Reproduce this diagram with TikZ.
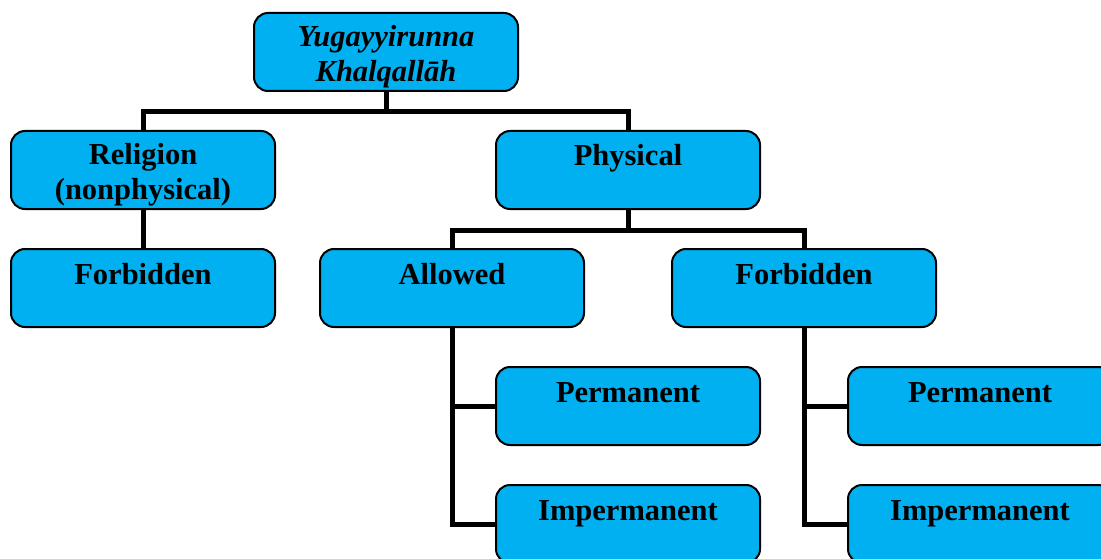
\documentclass[tikz,border=0pt]{standalone}
\usepackage{fontspec}
\setmainfont{Liberation Serif}
\definecolor{boxblue}{HTML}{00B0F0}
\tikzset{
  box/.style={draw=black, line width=2pt, fill=boxblue, rounded corners=14pt,
    minimum width=264pt, minimum height=78pt, inner sep=0pt, align=center,
    text height=35pt, text depth=43pt,
    font=\fontsize{30.5}{35}\selectfont\bfseries},
  twoline/.style={text height=69pt, text depth=9pt},
  link/.style={line width=5pt}
}
\begin{document}
\begin{tikzpicture}[x=1pt,y=-1pt]
            \useasboundingbox (0,0) rectangle (1101,559);
            \clip (0,0) rectangle (1101,559);

            \node[box, twoline] (root) at (386, 52){\itshape Yugayyirunna\\\itshape Khalqallāh};
            \node[box, twoline] (rel) at (143, 170){Religion\\(nonphysical)};
            \node[box] (phys) at (628, 170){Physical};
            \node[box] (lforb) at (143, 288){Forbidden};
            \node[box] (allow) at (452, 288){Allowed};
            \node[box] (rforb) at (804, 288){Forbidden};
            \node[box] (aperm) at (628, 406){Permanent};
            \node[box] (aimp) at (628, 524){Impermanent};
            \node[box] (fperm) at (980, 406){Permanent};
            \node[box] (fimp) at (980, 524){Impermanent};

            \draw[link] (root.south) -- ++(0, 20) -| (rel.north);
            \draw[link] (root.south) -- ++(0, 20) -| (phys.north);
            \draw[link] (rel.south) -- (lforb.north);
            \draw[link] (phys.south) -- ++(0, 20) -| (allow.north);
            \draw[link] (phys.south) -- ++(0, 20) -| (rforb.north);
            \draw[link] (allow.south) |- (aperm.west);
            \draw[link] (allow.south) |- (aimp.west);
            \draw[link] (rforb.south) |- (fperm.west);
            \draw[link] (rforb.south) |- (fimp.west);
        \end{tikzpicture}
\end{document}
